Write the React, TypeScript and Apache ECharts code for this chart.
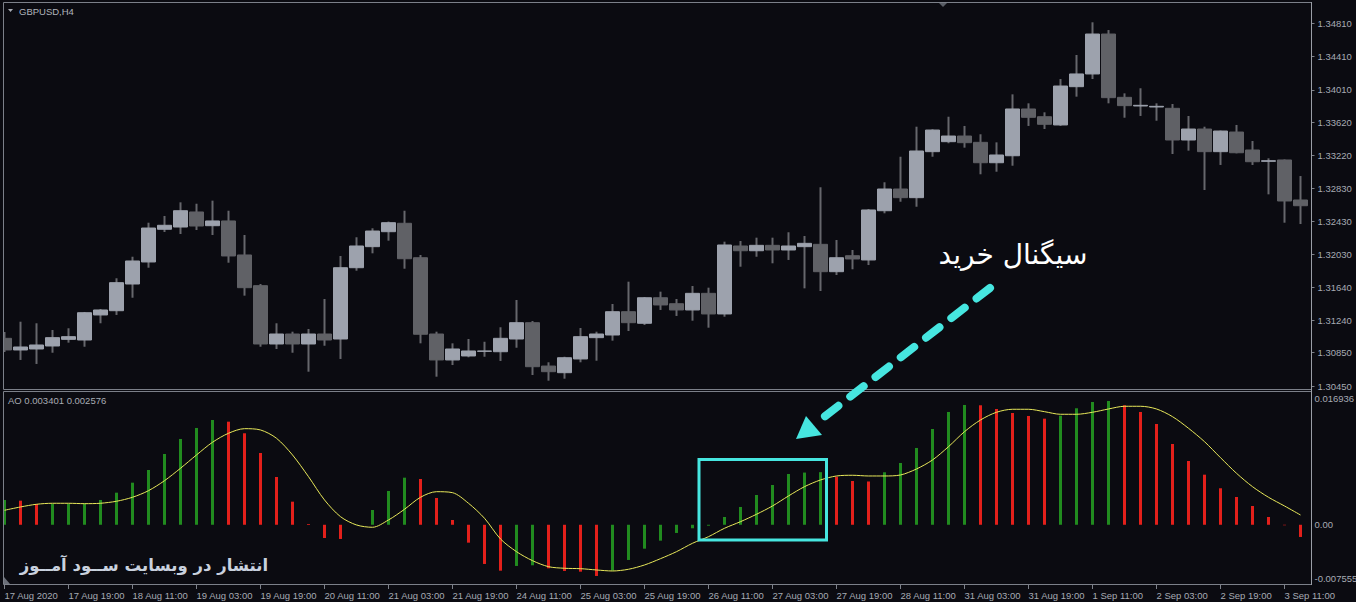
import React, { useEffect, useRef } from "react";
import * as echarts from "echarts";

// ---- data -------------------------------------------------------------
const CATEGORIES = [
  "2020.08.17 03:00", "2020.08.17 07:00", "2020.08.17 11:00", "2020.08.17 15:00", "2020.08.17 19:00", "2020.08.17 23:00",
  "2020.08.18 03:00", "2020.08.18 07:00", "2020.08.18 11:00", "2020.08.18 15:00", "2020.08.18 19:00", "2020.08.18 23:00",
  "2020.08.19 03:00", "2020.08.19 07:00", "2020.08.19 11:00", "2020.08.19 15:00", "2020.08.19 19:00", "2020.08.19 23:00",
  "2020.08.20 03:00", "2020.08.20 07:00", "2020.08.20 11:00", "2020.08.20 15:00", "2020.08.20 19:00", "2020.08.20 23:00",
  "2020.08.21 03:00", "2020.08.21 07:00", "2020.08.21 11:00", "2020.08.21 15:00", "2020.08.21 19:00", "2020.08.21 23:00",
  "2020.08.24 03:00", "2020.08.24 07:00", "2020.08.24 11:00", "2020.08.24 15:00", "2020.08.24 19:00", "2020.08.24 23:00",
  "2020.08.25 03:00", "2020.08.25 07:00", "2020.08.25 11:00", "2020.08.25 15:00", "2020.08.25 19:00", "2020.08.25 23:00",
  "2020.08.26 03:00", "2020.08.26 07:00", "2020.08.26 11:00", "2020.08.26 15:00", "2020.08.26 19:00", "2020.08.26 23:00",
  "2020.08.27 03:00", "2020.08.27 07:00", "2020.08.27 11:00", "2020.08.27 15:00", "2020.08.27 19:00", "2020.08.27 23:00",
  "2020.08.28 03:00", "2020.08.28 07:00", "2020.08.28 11:00", "2020.08.28 15:00", "2020.08.28 19:00", "2020.08.28 23:00",
  "2020.08.31 03:00", "2020.08.31 07:00", "2020.08.31 11:00", "2020.08.31 15:00", "2020.08.31 19:00", "2020.08.31 23:00",
  "2020.09.01 03:00", "2020.09.01 07:00", "2020.09.01 11:00", "2020.09.01 15:00", "2020.09.01 19:00", "2020.09.01 23:00",
  "2020.09.02 03:00", "2020.09.02 07:00", "2020.09.02 11:00", "2020.09.02 15:00", "2020.09.02 19:00", "2020.09.02 23:00",
  "2020.09.03 03:00", "2020.09.03 07:00", "2020.09.03 11:00", "2020.09.03 15:00",
];

const X_TICK_LABELS = [
  "17 Aug 2020", "17 Aug 19:00", "18 Aug 11:00", "19 Aug 03:00", "19 Aug 19:00", "20 Aug 11:00",
  "21 Aug 03:00", "21 Aug 19:00", "24 Aug 11:00", "25 Aug 03:00", "25 Aug 19:00", "26 Aug 11:00",
  "27 Aug 03:00", "27 Aug 19:00", "28 Aug 11:00", "31 Aug 03:00", "31 Aug 19:00", "1 Sep 11:00",
  "2 Sep 03:00", "2 Sep 19:00", "3 Sep 11:00",
];

const OPEN = [
  1.31023, 1.30883, 1.30895, 1.30931, 1.31011, 1.31003, 1.31304, 1.31355, 1.31676, 1.31941,
  1.32334, 1.32361, 1.32542, 1.32377, 1.32434, 1.32025, 1.31656, 1.30955, 1.31075, 1.30955,
  1.31075, 1.31015, 1.31872, 1.32125, 1.32305, 1.32406, 1.31992, 1.31075, 1.30763, 1.30811,
  1.30867, 1.30862, 1.31015, 1.31211, 1.30690, 1.30610, 1.30775, 1.31031, 1.31063, 1.31343,
  1.31204, 1.31511, 1.31439, 1.31364, 1.31564, 1.31316, 1.32133, 1.32076, 1.32141, 1.32085,
  1.32125, 1.32153, 1.31824, 1.32016, 1.31965, 1.32557, 1.32818, 1.32714, 1.33267, 1.33387,
  1.33455, 1.33379, 1.33134, 1.33218, 1.33780, 1.33687, 1.33588, 1.34048, 1.34201, 1.34681,
  1.33920, 1.33816, 1.33804, 1.33788, 1.33407, 1.33539, 1.33267, 1.33503, 1.33287, 1.33151,
  1.33167, 1.32686,
];
const CLOSE = [
  1.30883, 1.30919, 1.30943, 1.31031, 1.31043, 1.31331, 1.31364, 1.31692, 1.31953, 1.32349,
  1.32382, 1.32557, 1.32373, 1.32434, 1.32013, 1.31632, 1.30955, 1.31075, 1.30955, 1.31075,
  1.31003, 1.31872, 1.32133, 1.32313, 1.32413, 1.31980, 1.31072, 1.30763, 1.30895, 1.30871,
  1.30871, 1.31023, 1.31211, 1.30682, 1.30622, 1.30790, 1.31043, 1.31075, 1.31343, 1.31211,
  1.31511, 1.31424, 1.31364, 1.31564, 1.31316, 1.32145, 1.32076, 1.32141, 1.32085, 1.32133,
  1.32165, 1.31824, 1.31992, 1.31977, 1.32566, 1.32818, 1.32714, 1.33275, 1.33527, 1.33455,
  1.33375, 1.33134, 1.33227, 1.33780, 1.33680, 1.33596, 1.34056, 1.34201, 1.34681, 1.33916,
  1.33820, 1.33824, 1.33812, 1.33407, 1.33539, 1.33267, 1.33515, 1.33254, 1.33146, 1.33158,
  1.32674, 1.32617,
];
const LOW = [
  1.30859, 1.30763, 1.30715, 1.30850, 1.30971, 1.30922, 1.31204, 1.31304, 1.31511, 1.31872,
  1.32301, 1.32277, 1.32325, 1.32265, 1.31932, 1.31536, 1.30922, 1.30895, 1.30850, 1.30622,
  1.30934, 1.30775, 1.31836, 1.32045, 1.32197, 1.31860, 1.30963, 1.30562, 1.30702, 1.30795,
  1.30802, 1.30751, 1.30910, 1.30582, 1.30514, 1.30538, 1.30735, 1.30754, 1.30995, 1.31111,
  1.31183, 1.31364, 1.31292, 1.31235, 1.31151, 1.31283, 1.31884, 1.32004, 1.31925, 1.31965,
  1.31624, 1.31592, 1.31784, 1.31853, 1.31904, 1.32526, 1.32665, 1.32605, 1.33206, 1.33368,
  1.33315, 1.32995, 1.33026, 1.33098, 1.33576, 1.33539, 1.33576, 1.33928, 1.34140, 1.33848,
  1.33675, 1.33696, 1.33639, 1.33239, 1.33279, 1.32806, 1.33107, 1.33247, 1.33107, 1.32754,
  1.32413, 1.32397,
];
const HIGH = [
  1.31099, 1.31223, 1.31204, 1.31123, 1.31144, 1.31340, 1.31376, 1.31745, 1.32004, 1.32413,
  1.32494, 1.32658, 1.32641, 1.32678, 1.32557, 1.32265, 1.31676, 1.31204, 1.31103, 1.31135,
  1.31496, 1.32013, 1.32238, 1.32346, 1.32427, 1.32557, 1.32025, 1.31103, 1.30963, 1.31015,
  1.30982, 1.31156, 1.31484, 1.31231, 1.30735, 1.30802, 1.31147, 1.31103, 1.31436, 1.31704,
  1.31520, 1.31584, 1.31496, 1.31652, 1.31632, 1.32185, 1.32193, 1.32233, 1.32233, 1.32298,
  1.32253, 1.32839, 1.32205, 1.32085, 1.32578, 1.32899, 1.33206, 1.33567, 1.33536, 1.33687,
  1.33576, 1.33476, 1.33379, 1.33956, 1.33848, 1.33740, 1.34140, 1.34429, 1.34822, 1.34729,
  1.33968, 1.34029, 1.33848, 1.33840, 1.33696, 1.33567, 1.33521, 1.33588, 1.33395, 1.33187,
  1.33173, 1.32974,
];

const AO = [
  0.003164, 0.003074, 0.002653, 0.00266, 0.002675, 0.002692, 0.003164, 0.004095, 0.00537, 0.00699,
  0.009031, 0.010945, 0.012348, 0.013368, 0.013151, 0.011672, 0.009159, 0.006097, 0.002947, 0.000102,
  -0.001684, -0.001811, 0.00003, 0.001888, 0.004312, 0.006008, 0.005842, 0.003419, 0.000612, -0.002283,
  -0.005, -0.005855, -0.005255, -0.005166, -0.005549, -0.005893, -0.005983, -0.006531, -0.005855, -0.00449,
  -0.003049, -0.002028, -0.001046, -0.000446, -0.000115, 0.000995, 0.002271, 0.003801, 0.005077, 0.00648,
  0.006659, 0.00671, 0.006136, 0.005587, 0.005523, 0.006697, 0.007883, 0.009797, 0.01222, 0.014389,
  0.015282, 0.015243, 0.014771, 0.014261, 0.013879, 0.013534, 0.013917, 0.014861, 0.015664, 0.015792,
  0.015243, 0.014389, 0.012858, 0.010307, 0.008138, 0.006391, 0.004656, 0.003546, 0.002398, 0.000995,
  -0.000064, -0.001556,
];

const SIGNAL = [
  0.00185, 0.002271, 0.002615, 0.002743, 0.002743, 0.002692, 0.002743, 0.002998, 0.003508, 0.00435,
  0.005625, 0.007207, 0.008904, 0.010524, 0.011672, 0.012259, 0.012093, 0.011034, 0.008904, 0.006136,
  0.003164, 0.001033, -0.000026, -0.000319, 0.000612, 0.001977, 0.003508, 0.004222, 0.004095, 0.002743,
  0.000829, -0.001811, -0.003431, -0.004579, -0.005345, -0.005549, -0.0056, -0.005766, -0.005893, -0.005676,
  -0.005128, -0.004324, -0.003431, -0.00236, -0.001518, -0.000446, 0.000395, 0.001339, 0.002398, 0.003674,
  0.00486, 0.005715, 0.006225, 0.006314, 0.006225, 0.006225, 0.006352, 0.007118, 0.008266, 0.009962,
  0.011876, 0.013368, 0.014351, 0.014733, 0.014733, 0.014427, 0.014095, 0.014095, 0.014351, 0.014771,
  0.015116, 0.015116, 0.014771, 0.013789, 0.01231, 0.0106, 0.008559, 0.006569, 0.00486, 0.003508,
  0.002398, 0.00125,
];

const PRICE_TICKS = [
  1.3045, 1.3085, 1.3124, 1.3164, 1.3203, 1.3243, 1.3283, 1.3322, 1.3362, 1.3401, 1.3441, 1.3481,
];
const PRICE_MIN = 1.30414;
const PRICE_MAX = 1.35066;
const AO_MIN = -0.007555;
const AO_MAX = 0.016936;
const AO_TICKS = [AO_MIN, 0, AO_MAX];

// ---- style ------------------------------------------------------------
const BG = "#0b0b11";
const FRAME = "#7c8089";
const LABEL = "#a6aab3";
const BULL = "#9da2ad";
const BEAR = "#606166";
const WICK = "#66676c";
const GREEN = "#218b1f";
const RED = "#e3201b";
const YELLOW = "#e8e85a";
const CYAN = "#46e6e0";
const FONT = '"Liberation Sans", Arial, sans-serif';
const FA_FONT = '"DejaVu Sans", sans-serif';

export default function App() {
  const ref = useRef<HTMLDivElement>(null);

  useEffect(() => {
    if (!ref.current) return;
    const chart = echarts.init(ref.current, undefined, { renderer: "svg" });

    const wickData = OPEN.map((o, i) => [o, CLOSE[i], LOW[i], HIGH[i]]);
    const bodyData = OPEN.map((o, i) => [o, CLOSE[i], Math.min(o, CLOSE[i]), Math.max(o, CLOSE[i])]);
    const aoData = AO.map((v, i) => ({
      value: v,
      itemStyle: { color: i === 0 || v > AO[i - 1] ? GREEN : RED },
    }));

    const option: any = {
      animation: false,
      backgroundColor: BG,
      grid: [
        { left: -3.5, top: 2, width: 1312, height: 387, outerBoundsMode: "none", containLabel: false },
        { left: -3.5, top: 392, width: 1312, height: 192, outerBoundsMode: "none", containLabel: false },
      ],
      xAxis: [
        {
          type: "category",
          gridIndex: 0,
          data: CATEGORIES,
          boundaryGap: true,
          show: false,
        },
        {
          type: "category",
          gridIndex: 1,
          position: "bottom",
          data: CATEGORIES,
          boundaryGap: true,
          axisLine: { show: false, onZero: false },
          axisTick: {
            show: true,
            interval: 3,
            alignWithLabel: true,
            length: 5,
            lineStyle: { color: FRAME, width: 1 },
          },
          axisLabel: {
            interval: 3,
            align: "left",
            margin: 6,
            color: LABEL,
            fontSize: 9.5,
            fontFamily: FONT,
            formatter: (_v: string, i: number) => X_TICK_LABELS[i / 4] ?? "",
          },
          splitLine: { show: false },
        },
      ],
      yAxis: [
        {
          type: "value",
          gridIndex: 0,
          position: "right",
          offset: 3,
          min: PRICE_MIN,
          max: PRICE_MAX,
          axisLine: { show: false },
          axisTick: { show: true, length: 3, customValues: PRICE_TICKS, lineStyle: { color: FRAME } },
          axisLabel: {
            customValues: PRICE_TICKS,
            formatter: (v: number) => v.toFixed(5),
            margin: 6,
            color: LABEL,
            fontSize: 9.5,
            fontFamily: FONT,
          },
          splitLine: { show: false },
        },
        {
          type: "value",
          gridIndex: 1,
          position: "right",
          offset: 3,
          min: AO_MIN,
          max: AO_MAX,
          axisLine: { show: false },
          axisTick: { show: false },
          axisLabel: {
            customValues: AO_TICKS,
            formatter: (v: number) =>
              v >= AO_MAX ? "\n0.016936" : v <= AO_MIN ? "-0.007555\n" : "0.00",
            margin: 3,
            color: LABEL,
            fontSize: 9.5,
            lineHeight: 12,
            fontFamily: FONT,
          },
          splitLine: { show: false },
        },
      ],
      series: [
        {
          name: "wick",
          type: "candlestick",
          xAxisIndex: 0,
          yAxisIndex: 0,
          data: wickData,
          barWidth: 0.5,
          z: 2,
          itemStyle: {
            color: WICK,
            color0: WICK,
            borderColor: WICK,
            borderColor0: WICK,
            borderColorDoji: WICK,
            borderWidth: 2,
          },
        },
        {
          name: "body",
          type: "candlestick",
          xAxisIndex: 0,
          yAxisIndex: 0,
          data: bodyData,
          barWidth: 14,
          z: 3,
          itemStyle: {
            color: BULL,
            color0: BEAR,
            borderColor: BULL,
            borderColor0: BEAR,
            borderColorDoji: BULL,
            borderWidth: 1,
          },
        },
        {
          name: "AO",
          type: "bar",
          xAxisIndex: 1,
          yAxisIndex: 1,
          data: aoData,
          barWidth: 3,
          z: 2,
        },
        {
          name: "signal",
          type: "line",
          xAxisIndex: 1,
          yAxisIndex: 1,
          data: SIGNAL,
          showSymbol: false,
          symbol: "none",
          smooth: 0.3,
          lineStyle: { color: YELLOW, width: 1 },
          z: 5,
        },
      ],
      graphic: [
        // left edge cover (hides part of first candle behind the frame)
        { type: "rect", silent: true, z: 100, shape: { x: 0, y: 0, width: 3, height: 602 }, style: { fill: BG } },
        // frames
        {
          type: "rect", silent: true, z: 101,
          shape: { x: 3.5, y: 2.5, width: 1308, height: 387 },
          style: { fill: "none", stroke: FRAME, lineWidth: 1 },
        },
        {
          type: "rect", silent: true, z: 101,
          shape: { x: 3.5, y: 391.5, width: 1308, height: 193 },
          style: { fill: "none", stroke: FRAME, lineWidth: 1 },
        },
        { type: "line", silent: true, z: 102, shape: { x1: 1311.5, y1: 2, x2: 1311.5, y2: 585 }, style: { stroke: "#9a9ea6", lineWidth: 1 } },
        // small markers
        { type: "polygon", silent: true, z: 102, shape: { points: [[939, 3], [947, 3], [943, 7]] }, style: { fill: "#5a5e66" } },
        { type: "polygon", silent: true, z: 102, shape: { points: [[4, 577], [4, 584], [10, 584]] }, style: { fill: "#6a6e78" } },
        { type: "polygon", silent: true, z: 102, shape: { points: [[8, 9], [13, 9], [10.5, 12]] }, style: { fill: "#a8acb4" } },
        // titles
        {
          type: "text", silent: true, z: 102, x: 19, y: 11,
          style: { text: "GBPUSD,H4", fill: "#b0b4bc", font: `9.5px ${FONT}`, textAlign: "left", textVerticalAlign: "middle", align: "left", verticalAlign: "middle" },
        },
        {
          type: "text", silent: true, z: 102, x: 8, y: 400.5,
          style: { text: "AO 0.003401 0.002576", fill: "#a8acb4", font: `9.5px ${FONT}`, textAlign: "left", textVerticalAlign: "middle", align: "left", verticalAlign: "middle" },
        },
        // watermark
        {
          type: "text", silent: true, z: 102, x: 144, y: 565,
          style: { text: "انتشار در وبسایت ســود آمــوز", fill: "#c9d1de", font: `bold 16.5px ${FA_FONT}`, textAlign: "center", textVerticalAlign: "middle", align: "center", verticalAlign: "middle" },
        },
        // signal label
        {
          type: "text", silent: true, z: 102, x: 1013, y: 254,
          style: { text: "سیگنال خرید", fill: "#ffffff", font: `28px ${FA_FONT}`, textAlign: "center", textVerticalAlign: "middle", align: "center", verticalAlign: "middle" },
        },
        // dashed arrow
        {
          type: "line", silent: true, z: 103,
          shape: { x1: 990, y1: 288, x2: 815, y2: 424 },
          style: { stroke: CYAN, lineWidth: 8, lineDash: [17, 15], lineCap: "round", fill: "none" },
        },
        {
          type: "polygon", silent: true, z: 103,
          shape: { points: [[796, 439], [806, 416], [822, 435]] },
          style: { fill: CYAN },
        },
        // highlight box
        {
          type: "rect", silent: true, z: 103,
          shape: { x: 699, y: 459.5, width: 127.5, height: 80.5 },
          style: { fill: "none", stroke: CYAN, lineWidth: 3 },
        },
      ],
    };

    chart.setOption(option);
    return () => chart.dispose();
  }, []);

  return (
    <div
      ref={ref}
      style={{ position: "fixed", left: 0, top: 0, width: 1356, height: 602, background: BG }}
    />
  );
}
